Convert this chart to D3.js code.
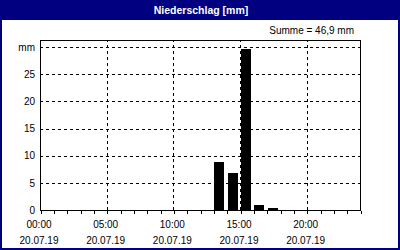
<!DOCTYPE html>
<html><head><meta charset="utf-8">
<script src="https://cdn.jsdelivr.net/npm/d3@7"></script>
<style>body{margin:0;background:#fff}svg{display:block}text{font-family:"Liberation Sans",Arial,sans-serif}</style>
</head><body><svg id="c" width="400" height="250"></svg>
<script>
const barHours = [13, 14, 15, 16, 17];
const barValues = [8.9, 6.9, 29.7, 1.0, 0.4];
const xTickHours = [0, 5, 10, 15, 20];
const xTickTimes = ["00:00", "05:00", "10:00", "15:00", "20:00"];
const xTickDates = ["20.07.19", "20.07.19", "20.07.19", "20.07.19", "20.07.19"];
const yTicks = [0, 5, 10, 15, 20, 25, 30];
const yTickLabels = ["0", "5", "10", "15", "20", "25", "mm"];
const title = "Niederschlag [mm]";
const sumText = "Summe = 46,9 mm";

const svg = d3.select("#c");
const navy = "#000080";
svg.append("rect").attr("x",0).attr("y",0).attr("width",400).attr("height",250).attr("fill",navy);
svg.append("rect").attr("x",2).attr("y",20).attr("width",396).attr("height",228).attr("fill","#fff");
svg.append("text").attr("x",201).attr("y",14).attr("text-anchor","middle")
  .attr("fill","#fff").attr("font-weight","bold").attr("font-size","10.5px").text(title);
svg.append("text").attr("x",354).attr("y",34).attr("text-anchor","end")
  .attr("fill","#000").attr("font-size","10px").text(sumText);

const L=40, R=360, T=40, B=210;
const x = d3.scaleLinear().domain([0,24]).range([L,R]);
const y = d3.scaleLinear().domain([0,31.3]).range([B,T]);

// bars
const bw = (x(1)-x(0))*0.75;
svg.append("g").selectAll("rect").data(barHours).join("rect")
  .attr("x",(h)=>Math.round(x(h))+1).attr("width",Math.round(bw))
  .attr("y",(h,i)=>Math.round(y(barValues[i]))).attr("height",(h,i)=>B-Math.round(y(barValues[i])))
  .attr("fill","#000");

// grid
const g = svg.append("g").attr("stroke","#000").attr("stroke-dasharray","3,3").attr("shape-rendering","crispEdges");
g.selectAll("line.h").data(yTicks.filter(v=>v>0)).join("line").attr("class","h")
  .attr("x1",L).attr("x2",R).attr("y1",v=>Math.round(y(v))+0.5).attr("y2",v=>Math.round(y(v))+0.5);
g.selectAll("line.v").data(xTickHours.filter(v=>v>0)).join("line").attr("class","v")
  .attr("y1",B).attr("y2",T).attr("x1",v=>Math.round(x(v))+0.5).attr("x2",v=>Math.round(x(v))+0.5);

// frame
svg.append("rect").attr("x",L+0.5).attr("y",T+0.5).attr("width",R-L).attr("height",B-T)
  .attr("fill","none").attr("stroke","#000").attr("shape-rendering","crispEdges");

// x axis hourly ticks
const xAxis = d3.axisBottom(x).tickValues(d3.range(0,25)).tickSize(3).tickFormat("");
const xg = svg.append("g").attr("transform",`translate(0.5,${B+0.5})`).call(xAxis);
xg.select(".domain").remove();
xg.selectAll(".tick line").attr("shape-rendering","crispEdges");

// x labels
const xl = svg.append("g").attr("font-size","10px").attr("text-anchor","middle").attr("fill","#000");
xl.selectAll("text.t").data(xTickHours).join("text").attr("class","t")
  .attr("x",h=>x(h)-1).attr("y",228).text((h,i)=>xTickTimes[i]);
xl.selectAll("text.d").data(xTickHours).join("text").attr("class","d")
  .attr("x",h=>x(h)-1).attr("y",244).text((h,i)=>xTickDates[i]);

// y axis labels
const yAxis = d3.axisLeft(y).tickValues(yTicks).tickSize(0).tickPadding(5).tickFormat((v,i)=>yTickLabels[i]);
const yg = svg.append("g").attr("transform",`translate(${L},0)`).call(yAxis);
yg.select(".domain").remove();
yg.selectAll("text").attr("font-size","10px").attr("font-family","Liberation Sans, Arial, sans-serif").attr("fill","#000");
</script></body></html>
